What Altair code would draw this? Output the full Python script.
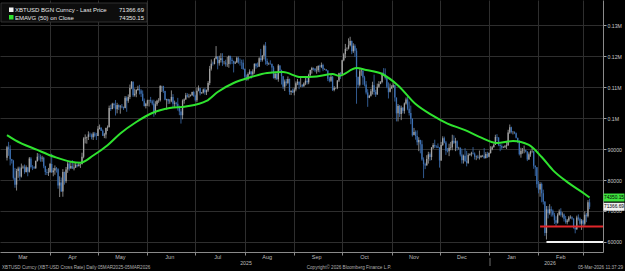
import altair as alt
import pandas as pd
import numpy as np

# ---------------- data (USD thousands) ----------------
first_open_k = 87.2  # close of 04-Mar-2025

close_mar25 = [90.6, 89.9, 86.7, 86.2, 80.7, 78.5, 82.9, 83.7, 81.1, 84.0, 84.3, 82.6, 84.1, 82.7, 86.9, 84.2, 84.1, 83.8, 86.1, 87.5, 87.4, 86.9, 87.2, 84.4, 82.6, 82.3, 82.5]
high_mar25 = [91.0, 92.3, 91.2, 86.8, 86.5, 83.9, 83.6, 84.3, 84.3, 85.3, 84.7, 85.0, 84.7, 84.0, 87.4, 87.4, 84.8, 84.5, 86.3, 88.7, 88.5, 88.2, 87.8, 87.5, 84.6, 83.5, 83.9]
low_mar25 = [86.3, 87.8, 84.7, 85.3, 80.1, 77.5, 76.6, 80.7, 79.9, 80.8, 83.6, 82.0, 82.4, 81.2, 82.4, 83.7, 83.2, 83.6, 83.6, 85.9, 86.3, 85.9, 85.9, 83.8, 81.6, 81.6, 81.3]

close_apr25 = [85.2, 82.5, 83.1, 83.8, 83.5, 78.2, 79.2, 76.3, 82.6, 79.6, 83.4, 85.3, 83.7, 84.5, 83.7, 84.0, 84.9, 84.5, 85.0, 85.1, 87.5, 93.4, 93.7, 93.9, 94.7, 94.6, 93.8, 95.0, 94.3, 94.2]
high_apr25 = [85.5, 88.5, 83.9, 84.7, 84.2, 83.8, 81.2, 80.8, 83.5, 82.7, 84.2, 85.9, 86.0, 85.8, 86.4, 85.4, 85.5, 85.1, 85.6, 85.3, 88.8, 93.8, 94.7, 94.0, 95.7, 95.3, 95.0, 95.5, 95.5, 95.2]
low_apr25 = [82.4, 82.3, 81.2, 81.7, 82.4, 77.2, 74.5, 76.2, 74.6, 78.5, 79.0, 82.3, 83.0, 83.7, 83.6, 83.1, 83.9, 84.1, 84.3, 83.9, 85.1, 87.0, 91.8, 91.7, 92.9, 93.9, 93.1, 92.9, 93.8, 92.9]

close_may25 = [96.5, 96.9, 95.9, 94.3, 94.7, 96.8, 97.0, 103.2, 102.9, 104.6, 104.1, 102.8, 104.2, 103.5, 103.7, 103.5, 103.2, 106.5, 105.6, 106.8, 109.7, 111.7, 107.3, 107.8, 109.0, 109.4, 108.9, 107.8, 105.6, 103.9, 104.6]
high_may25 = [97.4, 97.9, 96.9, 96.3, 95.2, 96.9, 97.6, 104.0, 104.3, 104.9, 104.9, 105.8, 104.9, 104.4, 104.2, 104.5, 103.7, 107.1, 107.0, 107.6, 110.8, 111.9, 111.8, 109.5, 109.3, 110.4, 110.7, 109.3, 108.9, 106.3, 104.9]
low_may25 = [94.2, 96.3, 95.8, 94.2, 93.5, 93.4, 95.8, 97.0, 102.3, 102.8, 103.1, 100.8, 101.5, 102.6, 101.4, 103.1, 102.6, 103.1, 102.0, 104.9, 106.1, 109.3, 106.8, 106.9, 106.7, 108.8, 107.6, 106.8, 105.4, 103.7, 103.1]

close_jun25 = [105.7, 105.8, 105.4, 104.7, 101.6, 104.4, 105.6, 105.7, 110.3, 110.3, 108.7, 105.9, 106.1, 105.4, 105.6, 106.8, 104.6, 104.9, 104.6, 103.3, 102.1, 100.9, 105.6, 106.0, 107.3, 106.9, 107.1, 107.3, 108.4, 107.1]
high_jun25 = [105.9, 105.9, 106.8, 105.9, 105.9, 105.4, 105.9, 106.4, 110.6, 110.4, 110.4, 108.8, 106.2, 106.2, 106.1, 108.9, 107.7, 105.6, 105.2, 106.5, 104.0, 103.0, 106.0, 106.3, 108.1, 108.0, 107.8, 107.6, 108.5, 108.8]
low_jun25 = [103.9, 103.7, 104.9, 104.1, 100.4, 101.1, 103.9, 104.9, 105.3, 108.4, 108.1, 105.7, 102.7, 104.5, 104.6, 105.1, 103.4, 103.6, 103.9, 102.4, 100.9, 98.2, 99.6, 104.6, 105.9, 106.6, 106.4, 106.9, 107.2, 106.8]

close_jul25 = [105.7, 108.8, 109.6, 108.0, 108.2, 109.2, 108.3, 108.9, 111.3, 115.9, 117.5, 117.4, 119.1, 119.8, 117.7, 118.7, 119.3, 117.9, 117.9, 117.3, 117.4, 120.0, 118.8, 118.4, 117.6, 117.9, 119.4, 118.0, 117.9, 117.8, 115.8]
high_jul25 = [107.5, 109.8, 110.5, 109.7, 108.4, 109.5, 109.7, 109.2, 111.9, 116.8, 118.9, 118.2, 119.4, 123.2, 119.9, 120.1, 120.9, 120.9, 118.4, 118.8, 119.7, 120.2, 120.1, 119.5, 118.5, 118.3, 119.8, 119.8, 119.2, 118.8, 118.9]
low_jul25 = [105.3, 105.1, 108.6, 107.3, 107.8, 107.9, 107.5, 107.4, 108.4, 110.6, 115.3, 116.9, 117.3, 118.9, 115.7, 116.9, 117.9, 116.8, 117.3, 116.6, 116.5, 116.2, 117.3, 117.4, 114.7, 117.4, 117.8, 117.5, 116.9, 115.8, 115.5]

close_aug25 = [113.3, 112.5, 114.2, 115.0, 114.1, 115.0, 117.5, 116.7, 116.5, 119.3, 118.7, 120.1, 123.3, 118.4, 117.4, 117.5, 117.4, 116.3, 112.9, 114.3, 112.5, 116.9, 115.4, 113.5, 110.1, 111.8, 111.3, 112.6, 108.4, 108.8, 108.2]
high_aug25 = [116.0, 114.0, 114.7, 115.7, 115.1, 115.7, 117.6, 117.7, 117.9, 119.6, 122.3, 120.3, 123.7, 124.5, 119.2, 117.9, 118.6, 117.6, 116.8, 114.6, 114.4, 117.4, 117.0, 115.6, 113.6, 112.4, 112.6, 113.4, 112.7, 108.9, 109.5]
low_aug25 = [112.7, 112.0, 112.1, 114.0, 112.7, 113.4, 114.3, 115.9, 116.3, 116.6, 118.1, 118.2, 118.9, 117.2, 116.8, 117.1, 117.2, 114.7, 112.7, 112.4, 112.3, 111.7, 114.6, 110.8, 109.3, 108.7, 110.4, 110.9, 107.5, 107.4, 108.1]

close_sep25 = [109.2, 111.2, 111.7, 110.7, 110.7, 110.2, 111.1, 112.0, 111.5, 113.9, 115.5, 116.1, 115.9, 115.3, 115.4, 116.8, 116.5, 117.1, 115.7, 115.7, 115.3, 112.7, 112.0, 113.3, 109.0, 109.7, 109.7, 112.1, 114.4, 114.1]
high_sep25 = [109.9, 111.8, 112.6, 111.8, 113.3, 110.9, 111.5, 112.9, 113.2, 114.3, 115.6, 116.5, 116.3, 116.1, 116.7, 117.0, 117.2, 117.9, 117.5, 116.0, 115.8, 115.4, 113.3, 113.9, 113.6, 110.3, 109.8, 112.2, 114.6, 114.8]
low_sep25 = [107.3, 108.6, 110.6, 109.3, 110.0, 109.9, 110.2, 110.6, 110.8, 110.9, 113.4, 114.3, 115.3, 114.8, 114.3, 114.8, 114.7, 116.1, 115.1, 115.5, 115.1, 111.9, 111.5, 111.6, 108.7, 108.6, 109.3, 109.3, 111.6, 112.6]

close_oct25 = [118.6, 120.6, 122.3, 122.4, 123.5, 124.8, 121.5, 123.3, 121.7, 113.2, 110.7, 115.1, 115.3, 113.1, 110.8, 108.2, 106.5, 107.2, 108.6, 110.6, 108.4, 107.6, 110.1, 111.0, 111.6, 114.5, 114.1, 112.9, 110.1, 108.3, 109.6]
high_oct25 = [118.8, 121.0, 123.9, 122.8, 125.7, 126.2, 125.0, 124.1, 123.8, 122.5, 113.4, 115.8, 115.9, 115.3, 113.6, 111.9, 109.3, 107.5, 109.4, 111.7, 114.0, 109.1, 111.1, 111.9, 111.9, 114.7, 116.1, 116.0, 113.6, 111.5, 111.1]
low_oct25 = [113.9, 118.3, 119.3, 121.6, 122.1, 123.1, 120.6, 121.0, 119.7, 104.6, 109.6, 110.2, 113.6, 110.7, 110.2, 107.6, 103.6, 106.4, 106.9, 107.6, 107.5, 106.8, 107.5, 109.7, 110.9, 111.2, 113.9, 112.4, 109.6, 106.3, 108.6]

close_nov25 = [110.1, 110.6, 106.6, 101.5, 103.9, 101.3, 103.3, 102.3, 104.7, 106.0, 103.0, 101.6, 99.7, 94.4, 95.5, 94.2, 92.2, 92.9, 91.5, 86.6, 85.1, 84.7, 86.8, 88.3, 87.4, 90.5, 91.3, 90.9, 90.8, 90.4]
high_nov25 = [110.6, 111.2, 110.7, 106.6, 104.5, 104.2, 104.0, 103.5, 105.0, 106.6, 107.0, 105.3, 104.0, 99.9, 96.8, 96.0, 96.0, 93.8, 93.0, 92.8, 87.3, 85.6, 88.0, 89.1, 88.9, 90.6, 91.9, 93.0, 91.2, 91.8]
low_nov25 = [109.4, 109.7, 105.3, 98.9, 98.9, 100.3, 99.3, 101.5, 101.4, 104.3, 102.5, 100.8, 98.0, 94.0, 94.6, 93.0, 91.2, 89.3, 88.6, 86.2, 80.6, 83.5, 84.7, 85.3, 86.2, 86.4, 90.0, 90.3, 90.3, 90.3]

close_dec25 = [86.3, 91.3, 93.5, 92.1, 89.4, 89.3, 90.4, 90.6, 92.7, 92.0, 92.5, 90.3, 90.3, 88.2, 86.4, 87.8, 86.1, 85.4, 88.1, 88.3, 88.6, 88.5, 87.5, 87.6, 87.2, 87.3, 87.8, 87.8, 87.1, 88.4, 87.5]
high_dec25 = [90.6, 92.3, 94.1, 94.0, 92.6, 90.3, 91.7, 92.3, 94.6, 94.4, 93.6, 92.8, 90.7, 90.6, 90.1, 88.2, 90.3, 89.4, 88.6, 88.6, 89.1, 90.6, 88.9, 87.9, 88.1, 89.5, 88.0, 88.1, 90.3, 89.0, 89.1]
low_dec25 = [84.0, 86.2, 91.0, 91.8, 88.1, 88.9, 87.7, 89.6, 89.6, 91.6, 89.3, 89.5, 89.8, 87.6, 85.3, 85.3, 85.8, 84.4, 85.3, 87.8, 87.6, 88.2, 86.6, 86.4, 86.9, 86.6, 87.2, 87.4, 86.8, 86.9, 87.1]

close_jan26 = [88.7, 89.9, 90.6, 91.4, 93.9, 93.7, 91.3, 91.0, 90.5, 90.6, 90.9, 91.2, 95.3, 97.0, 95.5, 95.5, 95.1, 93.6, 92.6, 88.3, 89.4, 89.5, 89.6, 89.2, 86.6, 88.3, 89.2, 89.3, 84.6, 84.1, 78.6]
high_jan26 = [88.9, 90.9, 91.0, 91.8, 94.6, 94.8, 93.8, 91.6, 91.5, 90.9, 91.3, 92.4, 96.2, 97.9, 97.2, 95.8, 95.7, 95.3, 93.6, 92.8, 90.4, 90.3, 91.1, 89.8, 89.3, 88.9, 89.5, 90.5, 89.4, 84.7, 84.2]
low_jan26 = [87.3, 88.5, 89.6, 90.5, 91.3, 92.5, 90.9, 89.3, 89.8, 90.3, 90.4, 90.0, 91.0, 94.9, 95.0, 94.7, 94.8, 93.4, 91.9, 87.9, 87.2, 88.5, 88.6, 88.9, 86.1, 86.5, 87.5, 88.8, 83.6, 81.3, 77.5]

close_feb26 = [76.9, 78.7, 75.7, 73.0, 62.9, 70.5, 69.3, 70.6, 70.1, 68.8, 67.0, 66.2, 68.8, 69.8, 68.8, 68.9, 67.5, 66.4, 66.9, 67.9, 68.0, 67.6, 64.6, 64.1, 67.9, 67.5, 65.9, 66.9]
high_feb26 = [79.7, 79.3, 79.2, 76.9, 73.2, 71.6, 71.6, 72.2, 71.5, 70.5, 69.4, 68.3, 69.3, 70.5, 70.9, 69.6, 69.2, 68.4, 67.4, 68.4, 68.6, 68.3, 67.6, 64.9, 68.5, 68.9, 67.9, 67.4]
low_feb26 = [75.7, 74.6, 72.8, 72.1, 62.0, 60.8, 67.6, 68.8, 68.2, 68.2, 65.8, 65.2, 65.9, 68.5, 68.2, 67.9, 66.6, 65.9, 65.7, 66.5, 67.5, 67.2, 64.3, 62.8, 63.9, 66.9, 65.5, 63.9]

close_mar26 = [65.9, 68.8, 68.3, 72.8, 71.36669]
high_mar26 = [67.2, 69.9, 69.4, 73.5, 74.0]
low_mar26 = [65.1, 65.3, 66.4, 67.9, 70.6]

# EMAVG(50) on close
ema_dates = ["2025-03-05", "2025-03-10", "2025-03-24", "2025-04-04", "2025-04-14", "2025-04-20",
             "2025-04-28", "2025-05-07", "2025-05-15", "2025-05-25", "2025-06-04", "2025-06-15",
             "2025-06-25", "2025-07-08", "2025-07-15", "2025-07-25", "2025-08-05", "2025-08-15",
             "2025-08-25", "2025-09-05", "2025-09-15", "2025-09-25", "2025-09-29", "2025-10-10",
             "2025-10-16", "2025-10-26", "2025-11-05", "2025-11-16", "2025-11-26", "2025-12-06",
             "2025-12-17", "2025-12-26", "2026-01-06", "2026-01-16", "2026-01-26", "2026-02-03",
             "2026-02-10", "2026-02-20", "2026-03-02", "2026-03-05"]
ema_k = [94.5, 92.9, 89.7, 87.4, 85.9, 85.6,
         87.9, 91.2, 95.0, 98.7, 101.6, 103.2,
         103.7, 105.5, 108.4, 111.3, 113.2, 114.5,
         114.8, 113.2, 113.4, 114.2, 113.6, 116.1,
         115.5, 114.2, 110.5, 104.5, 101.0, 98.2,
         96.1, 93.9, 91.9, 92.6, 91.3, 87.4,
         83.2, 79.0, 75.5, 74.35015]

month_labels = ["Mar", "Apr", "May", "Jun", "Jul", "Aug", "Sep", "Oct", "Nov", "Dec", "Jan", "Feb"]
month_label_dates = ["2025-03-15", "2025-04-15", "2025-05-15", "2025-06-15", "2025-07-15", "2025-08-15",
                     "2025-09-15", "2025-10-15", "2025-11-15", "2025-12-15", "2026-01-15", "2026-02-15"]
month_starts = [(2025, m) for m in range(4, 13)] + [(2026, 1), (2026, 2), (2026, 3)]

level_values = [65000, 60000]
level_starts = ["2026-02-02", "2026-02-06"]
level_colors = ["#e0262a", "#f2f2f2"]

y_ticks = [60000, 70000, 80000, 90000, 100000, 110000, 120000, 130000]

# ---------------- build table ----------------
close_k = (close_mar25 + close_apr25 + close_may25 + close_jun25 + close_jul25 + close_aug25 +
           close_sep25 + close_oct25 + close_nov25 + close_dec25 + close_jan26 + close_feb26 + close_mar26)
high_k = (high_mar25 + high_apr25 + high_may25 + high_jun25 + high_jul25 + high_aug25 +
          high_sep25 + high_oct25 + high_nov25 + high_dec25 + high_jan26 + high_feb26 + high_mar26)
low_k = (low_mar25 + low_apr25 + low_may25 + low_jun25 + low_jul25 + low_aug25 +
         low_sep25 + low_oct25 + low_nov25 + low_dec25 + low_jan26 + low_feb26 + low_mar26)
open_k = [first_open_k] + close_k[:-1]
dates = pd.date_range("2025-03-05", periods=len(close_k), freq="D").strftime("%Y-%m-%d")

df = pd.DataFrame({
    "date": dates,
    "open": np.array(open_k) * 1000,
    "close": np.array(close_k) * 1000,
    "high": np.array(high_k) * 1000,
    "low": np.array(low_k) * 1000,
})
df["dir"] = np.where(df["close"] >= df["open"], "up", "down")

ema_df = pd.DataFrame({"date": ema_dates, "ema": np.array(ema_k) * 1000})
months_df = pd.DataFrame({"label": month_labels, "date": month_label_dates})
levels_df = pd.DataFrame({"level": level_values, "start": level_starts, "color": level_colors})

W, H = 603, 252
FONT = "Liberation Sans"

xscale = alt.Scale(type="utc", domain=[
    alt.DateTime(year=2025, month=3, date=3, hours=18, utc=True),
    alt.DateTime(year=2026, month=3, date=10, hours=7, utc=True)])
yscale = alt.Scale(domain=[56774, 138065], nice=False, zero=False)

month_vals = [alt.DateTime(year=y, month=m, date=1, utc=True) for (y, m) in month_starts]

x_axis = alt.Axis(values=month_vals, labels=False, grid=True, gridColor="#2e2e2e", gridWidth=1,
                  tickSize=3, tickColor="#8a8a8a", domainColor="#8a8a8a", title=None)
y_axis = alt.Axis(orient="right", values=y_ticks, grid=True, gridColor="#2e2e2e", gridWidth=1,
                  labelExpr="datum.value >= 100000 ? format(datum.value/1000000, '.2~f') + 'M' : '' + datum.value",
                  labelFontSize=5.2, labelColor="#c8c8c8", labelFont=FONT, labelPadding=1,
                  labelOverlap=False, labelBound=False,
                  tickSize=3, tickColor="#a0a0a0", domainColor="#8a8a8a", title=None)

def X(field):
    return alt.X(field, scale=xscale, axis=x_axis)

def Y(field):
    return alt.Y(field, scale=yscale, axis=y_axis)

color_scale = alt.Scale(domain=["up", "down"], range=["#a4a4a4", "#3d70b2"])

base = alt.Chart(df)
wicks = base.mark_rule(strokeWidth=0.8).encode(
    x=X("date:T"), y=Y("low:Q"), y2="high:Q",
    color=alt.Color("dir:N", scale=color_scale, legend=None),
)
bodies = base.mark_bar(size=1.3).encode(
    x=X("date:T"), y=Y("open:Q"), y2="close:Q",
    color=alt.Color("dir:N", scale=color_scale, legend=None),
)
ema_line = alt.Chart(ema_df).mark_line(color="#2fe32f", strokeWidth=2, interpolate="monotone").encode(
    x=X("date:T"), y=Y("ema:Q"),
)
levels = alt.Chart(levels_df).mark_rule(strokeWidth=2).encode(
    x=X("start:T"), x2=alt.value(W), y=Y("level:Q"),
    color=alt.Color("color:N", scale=None, legend=None),
)
month_text = alt.Chart(months_df).mark_text(fontSize=5.5, color="#bdbdbd", font=FONT, baseline="middle").encode(
    x=X("date:T"), y=alt.value(257), text="label:N",
)

# last-value tags on the right axis
tags_df = pd.DataFrame({"v": [ema_k[-1] * 1000, close_k[-1] * 1000],
                        "t": ["74350.15", "71366.69"],
                        "bg": ["#3ee23e", "#f0f0f0"]})
tag_rect = alt.Chart(tags_df).mark_rect(width=21, height=8).encode(
    x=alt.value(614), y=Y("v:Q"), color=alt.Color("bg:N", scale=None, legend=None))
tag_text = alt.Chart(tags_df).mark_text(fontSize=4.8, color="#000000", font=FONT, baseline="middle").encode(
    x=alt.value(614), y=Y("v:Q"), text="t:N")

# legend box
one = pd.DataFrame({"a": [0]})
leg_box = alt.Chart(one).mark_rect(fill="#0d0d0d", stroke="#3a3a3a", strokeWidth=0.8).encode(
    x=alt.value(1), x2=alt.value(147), y=alt.value(3), y2=alt.value(22))
leg_sq1 = alt.Chart(one).mark_rect(fill="#f2f2f2").encode(
    x=alt.value(9), x2=alt.value(13.5), y=alt.value(7.5), y2=alt.value(12))
leg_sq2 = alt.Chart(one).mark_rect(fill="#2fe32f").encode(
    x=alt.value(9), x2=alt.value(13.5), y=alt.value(15), y2=alt.value(19.5))
def txt(s, x, y, size=6.0, color="#e8e8e8", align="left"):
    return alt.Chart(one).mark_text(text=s, fontSize=size, color=color, font=FONT,
                                    align=align, baseline="middle").encode(x=alt.value(x), y=alt.value(y))

leg_t1 = txt("XBTUSD BGN Curncy - Last Price", 15, 10)
leg_v1 = txt("71366.69", 144, 10, align="right")
leg_t2 = txt("EMAVG (50)  on Close", 15, 17.5)
leg_v2 = txt("74350.15", 144, 17.5, align="right")

year1 = txt("2025", 246, 263, size=5.2, color="#bdbdbd", align="center")
year2 = txt("2026", 550, 263, size=5.2, color="#bdbdbd", align="center")
year_sep = alt.Chart(one).mark_rule(color="#8a8a8a", strokeWidth=0.8).encode(
    x=alt.value(490), y=alt.value(258), y2=alt.value(266))
foot1 = txt("XBTUSD Curncy (XBT-USD Cross Rate) Daily 05MAR2025-05MAR2026", 2, 267.5, size=4.6, color="#b0b0b0")
foot2 = txt("Copyright\u00a9 2026 Bloomberg Finance L.P.", 349, 267.5, size=4.6, color="#b0b0b0", align="center")
foot3 = txt("05-Mar-2026 11:37:29", 623, 267.5, size=4.6, color="#b0b0b0", align="right")

chart = alt.layer(
    wicks, bodies, ema_line, levels, month_text, tag_rect, tag_text,
    leg_box, leg_sq1, leg_sq2, leg_t1, leg_v1, leg_t2, leg_v2,
    year1, year2, year_sep, foot1, foot2, foot3,
).properties(
    width=W, height=H,
    autosize=alt.AutoSizeParams(type="none"),
    padding={"left": 0, "top": 0, "right": 22, "bottom": 19},
    background="#000000",
).configure_view(stroke=None, fill="#000000")

chart.save("out.html", embed_options={"renderer": "svg", "actions": False})
